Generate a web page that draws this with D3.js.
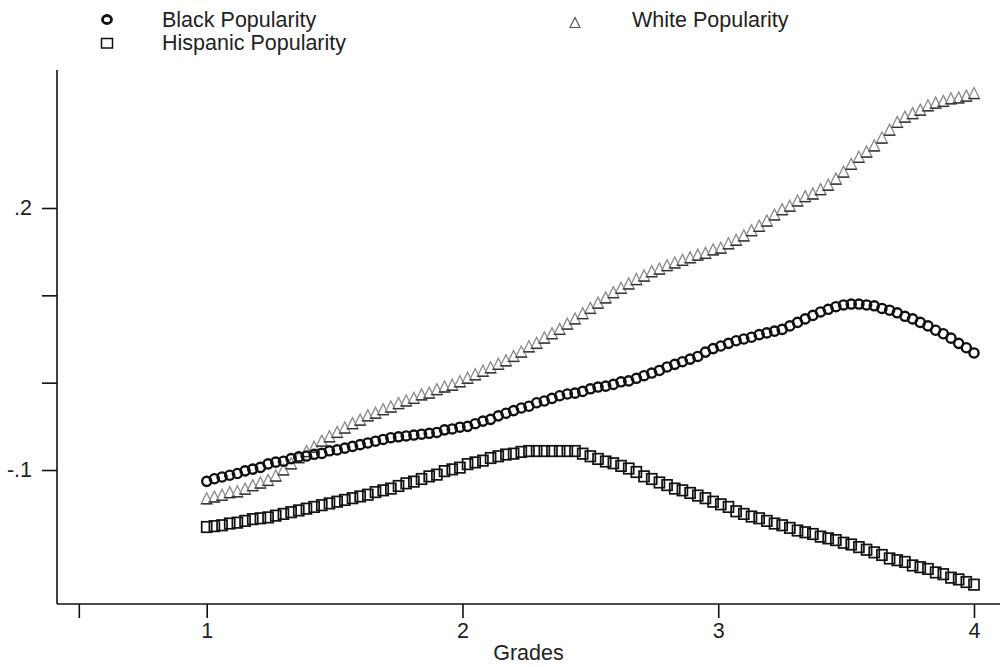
<!DOCTYPE html>
<html>
<head>
<meta charset="utf-8">
<script src="https://cdn.jsdelivr.net/npm/d3@7"></script>
<style>
  html, body { margin: 0; padding: 0; background: #fff; }
  svg { display: block; }
  text { font-family: "Liberation Sans", Arial, sans-serif; fill: #222; }
</style>
</head>
<body>
<svg id="chart" width="1000" height="667"></svg>
<script>
// ---- data ----
const grades = [
  1.00,1.03,1.06,1.09,1.12,1.15,1.18,1.21,1.24,1.27,
  1.30,1.33,1.36,1.39,1.42,1.45,1.48,1.51,1.54,1.57,
  1.60,1.63,1.66,1.69,1.72,1.75,1.78,1.81,1.84,1.87,
  1.90,1.93,1.96,1.99,2.02,2.05,2.08,2.11,2.14,2.17,
  2.20,2.23,2.26,2.29,2.32,2.35,2.38,2.41,2.44,2.47,
  2.50,2.53,2.56,2.59,2.62,2.65,2.68,2.71,2.74,2.77,
  2.80,2.83,2.86,2.89,2.92,2.95,2.98,3.01,3.04,3.07,
  3.10,3.13,3.16,3.19,3.22,3.25,3.28,3.31,3.34,3.37,
  3.40,3.43,3.46,3.49,3.52,3.55,3.58,3.61,3.64,3.67,
  3.70,3.73,3.76,3.79,3.82,3.85,3.88,3.91,3.94,3.97,
  4.00
];

const blackPopularity = [
  -0.113,-0.110,-0.108,-0.106,-0.104,-0.101,-0.099,-0.097,-0.093,-0.091,
  -0.090,-0.087,-0.085,-0.084,-0.082,-0.081,-0.078,-0.077,-0.075,-0.073,
  -0.071,-0.069,-0.067,-0.065,-0.063,-0.062,-0.061,-0.060,-0.059,-0.058,
  -0.057,-0.054,-0.053,-0.051,-0.050,-0.047,-0.044,-0.042,-0.038,-0.035,
  -0.032,-0.029,-0.027,-0.023,-0.021,-0.018,-0.015,-0.013,-0.012,-0.010,
  -0.007,-0.005,-0.004,-0.002,0.001,0.002,0.005,0.008,0.011,0.014,
  0.018,0.021,0.024,0.027,0.030,0.035,0.039,0.042,0.045,0.048,
  0.050,0.052,0.055,0.057,0.059,0.061,0.065,0.069,0.073,0.077,
  0.081,0.084,0.087,0.089,0.090,0.090,0.089,0.088,0.085,0.083,
  0.080,0.076,0.073,0.069,0.065,0.060,0.056,0.051,0.045,0.040,
  0.034
];

const hispanicPopularity = [
  -0.165,-0.164,-0.163,-0.161,-0.160,-0.158,-0.156,-0.155,-0.154,-0.152,
  -0.150,-0.148,-0.146,-0.144,-0.142,-0.140,-0.138,-0.136,-0.134,-0.132,
  -0.130,-0.128,-0.125,-0.123,-0.121,-0.118,-0.115,-0.113,-0.110,-0.107,
  -0.105,-0.101,-0.099,-0.097,-0.093,-0.091,-0.089,-0.086,-0.084,-0.082,
  -0.081,-0.079,-0.078,-0.078,-0.078,-0.078,-0.078,-0.078,-0.078,-0.081,
  -0.084,-0.087,-0.090,-0.092,-0.095,-0.098,-0.102,-0.107,-0.110,-0.114,
  -0.117,-0.121,-0.123,-0.126,-0.129,-0.132,-0.136,-0.139,-0.142,-0.147,
  -0.150,-0.153,-0.155,-0.158,-0.161,-0.163,-0.166,-0.169,-0.171,-0.173,
  -0.176,-0.178,-0.180,-0.183,-0.185,-0.188,-0.191,-0.194,-0.197,-0.201,
  -0.203,-0.205,-0.209,-0.211,-0.213,-0.217,-0.219,-0.223,-0.225,-0.228,
  -0.231
];

const whitePopularity = [
  -0.133,-0.131,-0.129,-0.126,-0.125,-0.122,-0.118,-0.115,-0.112,-0.107,
  -0.100,-0.093,-0.086,-0.079,-0.074,-0.067,-0.062,-0.057,-0.052,-0.047,
  -0.043,-0.038,-0.035,-0.031,-0.028,-0.024,-0.021,-0.018,-0.014,-0.012,
  -0.008,-0.005,-0.003,0.001,0.005,0.009,0.013,0.017,0.021,0.025,
  0.030,0.035,0.041,0.045,0.051,0.056,0.061,0.067,0.073,0.079,
  0.085,0.091,0.097,0.103,0.108,0.113,0.118,0.122,0.127,0.130,
  0.134,0.137,0.140,0.143,0.146,0.148,0.152,0.154,0.159,0.163,
  0.168,0.174,0.179,0.185,0.192,0.198,0.202,0.208,0.213,0.216,
  0.221,0.226,0.233,0.241,0.250,0.258,0.264,0.271,0.280,0.289,
  0.298,0.304,0.308,0.312,0.317,0.320,0.322,0.325,0.326,0.328,
  0.331
];

const seriesNames = ["Black Popularity", "Hispanic Popularity", "White Popularity"];
const xTickValues = [0.5, 1, 2, 3, 4];
const xTickLabels = ["", "1", "2", "3", "4"];
const yTickValues = [-0.1, 0, 0.1, 0.2];
const yTickLabels = ["-.1", "", "", ".2"];
const xTitle = "Grades";

// ---- layout ----
const svg = d3.select("#chart");
const axisX0 = 57, axisX1 = 1000, axisY = 604, axisTop = 70;
const x = d3.scaleLinear().domain([1, 4]).range([206.7, 974]);
const y = d3.scaleLinear().domain([-0.1, 0.2]).range([470, 208]);
const fontSize = 21.5;

// ---- axes ----
const xAxis = d3.axisBottom(x)
  .tickValues(xTickValues)
  .tickSize(14)
  .tickPadding(5)
  .tickFormat((d, i) => xTickLabels[i]);
const gx = svg.append("g").attr("transform", `translate(0,${axisY})`).call(xAxis);
gx.select(".domain").remove();
gx.selectAll(".tick line").attr("stroke", "#111").attr("stroke-width", 1.6);
gx.selectAll(".tick text").attr("font-size", fontSize).attr("font-family", "Liberation Sans, Arial, sans-serif").attr("fill", "#222");
svg.append("line")
  .attr("x1", axisX0).attr("x2", axisX1).attr("y1", axisY).attr("y2", axisY)
  .attr("stroke", "#111").attr("stroke-width", 1.6);

const yAxis = d3.axisLeft(y)
  .tickValues(yTickValues)
  .tickSize(15)
  .tickPadding(10)
  .tickFormat((d, i) => yTickLabels[i]);
const gy = svg.append("g").attr("transform", `translate(${axisX0},0)`).call(yAxis);
gy.select(".domain").remove();
gy.selectAll(".tick line").attr("stroke", "#111").attr("stroke-width", 1.6);
gy.selectAll(".tick text").attr("font-size", fontSize).attr("font-family", "Liberation Sans, Arial, sans-serif").attr("fill", "#222");
svg.append("line")
  .attr("x1", axisX0).attr("x2", axisX0).attr("y1", axisTop).attr("y2", axisY)
  .attr("stroke", "#111").attr("stroke-width", 1.6);

svg.append("text")
  .attr("x", (axisX0 + axisX1) / 2).attr("y", 660)
  .attr("text-anchor", "middle").attr("font-size", fontSize)
  .text(xTitle);

// ---- markers ----
const triPath = (cx, cy, s) => `M${cx},${cy - s * 0.55} L${cx + s / 2},${cy + s * 0.45} L${cx - s / 2},${cy + s * 0.45} Z`;

const white = grades.map((g, i) => ({ g, v: whitePopularity[i] }));
const hisp = grades.map((g, i) => ({ g, v: hispanicPopularity[i] }));
const black = grades.map((g, i) => ({ g, v: blackPopularity[i] }));

const gw = svg.append("g");
gw.selectAll("path.tri").data(white).join("path").attr("class", "tri")
  .attr("d", d => triPath(x(d.g), y(d.v), 11))
  .attr("fill", "none").attr("stroke", "#8a8a8a").attr("stroke-width", 1.3);
gw.selectAll("line.base").data(white).join("line").attr("class", "base")
  .attr("x1", d => x(d.g) - 5.5).attr("x2", d => x(d.g) + 5.5)
  .attr("y1", d => y(d.v) + 11 * 0.45).attr("y2", d => y(d.v) + 11 * 0.45)
  .attr("stroke", "#333").attr("stroke-width", 1.4);

svg.append("g").selectAll("rect").data(hisp).join("rect")
  .attr("x", d => x(d.g) - 5).attr("y", d => y(d.v) - 5)
  .attr("width", 10).attr("height", 10.5)
  .attr("fill", "none").attr("stroke", "#111").attr("stroke-width", 1.7);

svg.append("g").selectAll("circle").data(black).join("circle")
  .attr("cx", d => x(d.g)).attr("cy", d => y(d.v)).attr("r", 4.6)
  .attr("fill", "none").attr("stroke", "#111").attr("stroke-width", 2.4);

// ---- legend ----
const leg = svg.append("g");
leg.append("ellipse").attr("cx", 107).attr("cy", 19.5).attr("rx", 4.5).attr("ry", 4)
  .attr("fill", "none").attr("stroke", "#111").attr("stroke-width", 2.8);
leg.append("text").attr("x", 162).attr("y", 27).attr("font-size", fontSize).text(seriesNames[0]);
leg.append("rect").attr("x", 101.5).attr("y", 38.5).attr("width", 11).attr("height", 9.5)
  .attr("fill", "none").attr("stroke", "#111").attr("stroke-width", 1.5);
leg.append("text").attr("x", 162).attr("y", 50).attr("font-size", fontSize).text(seriesNames[1]);
leg.append("path").attr("d", triPath(575, 23, 10))
  .attr("fill", "none").attr("stroke", "#555").attr("stroke-width", 1.2);
leg.append("text").attr("x", 632).attr("y", 27).attr("font-size", fontSize).text(seriesNames[2]);
</script>
</body>
</html>
